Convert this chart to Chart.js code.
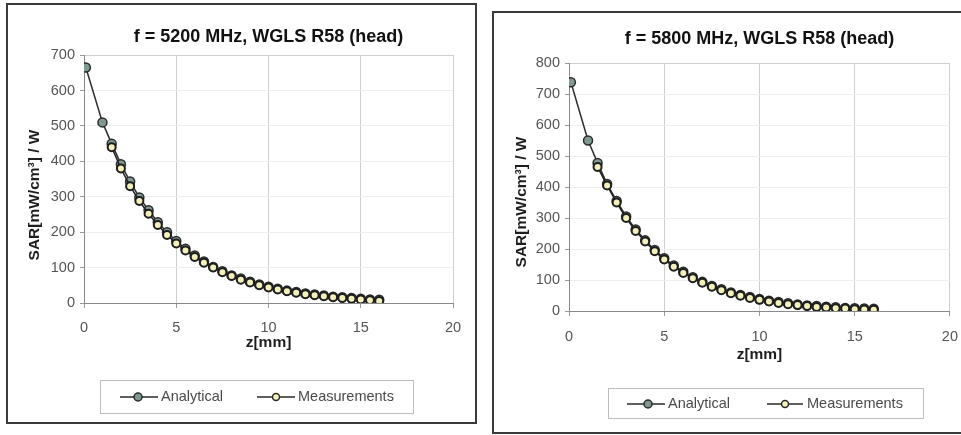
<!DOCTYPE html>
<html>
<head>
<meta charset="utf-8">
<script src="https://cdn.jsdelivr.net/npm/chart.js@4.4.1/dist/chart.umd.min.js"></script>
<style>
    body { margin: 0; background: #ffffff; width: 961px; height: 435px; overflow: hidden; position: relative; }
    .box { position: absolute; box-sizing: border-box; border: 2px solid #3a3a3a; background: #ffffff; }
    #box1 { left: 6px; top: 3px; width: 471px; height: 421px; }
    #box2 { left: 492px; top: 11px; width: 480px; height: 423px; }
    canvas { display: block; }
</style>
</head>
<body>
<div class="box" id="box1"><canvas id="chart1" width="467" height="417"></canvas></div>
<div class="box" id="box2"><canvas id="chart2" width="476" height="419"></canvas></div>

<script>
//Data
///z positions [mm]
var zAnalytical = [0.1, 1, 1.5, 2, 2.5, 3, 3.5, 4, 4.5, 5, 5.5, 6, 6.5, 7, 7.5, 8, 8.5, 9, 9.5, 10, 10.5, 11, 11.5, 12, 12.5, 13, 13.5, 14, 14.5, 15, 15.5, 16];
var zMeasured = [1.5, 2, 2.5, 3, 3.5, 4, 4.5, 5, 5.5, 6, 6.5, 7, 7.5, 8, 8.5, 9, 9.5, 10, 10.5, 11, 11.5, 12, 12.5, 13, 13.5, 14, 14.5, 15, 15.5, 16];

///f = 5200 MHz
var sar5200Analytical = [665, 510, 450, 392, 343, 298, 262, 228, 200, 175, 153, 134, 117, 102, 90, 78, 69, 60, 52, 46, 40, 35, 31, 27, 24, 21, 18, 16, 14, 12, 10, 9];
var sar5200Measured = [440, 380, 330, 288, 252, 220, 192, 168, 148, 130, 114, 100, 87, 76, 66, 58, 50, 44, 38, 33, 29, 25, 22, 19, 16, 14, 12, 10, 8, 6];

///f = 5800 MHz
var sar5800Analytical = [738, 550, 478, 410, 355, 305, 263, 228, 197, 170, 147, 127, 109, 94, 81, 70, 60, 52, 45, 39, 33, 29, 25, 21, 18, 16, 14, 12, 10, 9, 8, 7];
var sar5800Measured = [465, 405, 350, 300, 258, 224, 193, 166, 143, 123, 106, 91, 78, 67, 57, 49, 42, 36, 31, 26, 22, 19, 16, 13, 11, 9, 8, 6, 5, 4];

///Tick settings
var xTicks = [0, 5, 10, 15, 20];
var seriesNames = ["Analytical", "Measurements"];

var fontFamily = "'Liberation Sans', Arial, Helvetica, sans-serif";

//Pairs two arrays into {x, y} points
function toPoints(xs, ys) {
    var points = [];

    for (var i = 0; i < xs.length; i++) {
        points.push({ x: xs[i], y: ys[i] });
    }

    return points
}

//Draws the boxed legend and the rotated y title by hand
var extrasPlugin = {
    id: "extras",
    afterDraw: function (chart) {
        var ctx = chart.ctx;
        var o = chart.options.plugins.extras;

        ctx.save();

        //Y axis title
        ctx.translate(o.yTitleX, o.yTitleY);
        ctx.rotate(-Math.PI / 2);
        ctx.font = "bold 15.5px " + fontFamily;
        ctx.fillStyle = "#1e1e1e";
        ctx.textAlign = "center";
        ctx.textBaseline = "middle";
        ctx.fillText("SAR[mW/cm\u00B3] / W", 0, 0);
        ctx.restore();

        //Legend box
        ctx.save();
        var b = o.legendBox;
        ctx.fillStyle = "#ffffff";
        ctx.fillRect(b[0], b[1], b[2] - b[0], b[3] - b[1]);
        ctx.strokeStyle = "#bdbdbd";
        ctx.lineWidth = 1;
        ctx.strokeRect(b[0] + 0.5, b[1] + 0.5, b[2] - b[0], b[3] - b[1]);

        var y = o.legendY;
        o.legendItems.forEach(function (item, i) {
            var ds = chart.data.datasets[i];

            ctx.strokeStyle = "#2a2a2a";
            ctx.lineWidth = 1.5;
            ctx.beginPath();
            ctx.moveTo(item.line[0], y);
            ctx.lineTo(item.line[1], y);
            ctx.stroke();

            ctx.beginPath();
            ctx.arc(item.marker, y, i == 0 ? 4 : 3.5, 0, Math.PI * 2);
            ctx.fillStyle = ds.pointBackgroundColor;
            ctx.fill();
            ctx.lineWidth = 1.5;
            ctx.strokeStyle = "#2a2a2a";
            ctx.stroke();

            ctx.font = "14.5px " + fontFamily;
            ctx.fillStyle = "#4a4a4a";
            ctx.textAlign = "left";
            ctx.textBaseline = "middle";
            ctx.fillText(seriesNames[i], item.text, y);
        });

        ctx.restore();
    }
};

//Builds one chart
function drawChart(canvasId, setup) {
    var data = {
        datasets: [{
                label: seriesNames[0],
                data: toPoints(zAnalytical, setup.analytical),
                showLine: true,
                borderColor: "#2e2e2e",
                borderWidth: 1.5,
                pointRadius: 4.5,
                pointBorderWidth: 1.5,
                pointBackgroundColor: "#7f9990",
                pointBorderColor: "#2a2a2a",
                order: 2
            }, {
                label: seriesNames[1],
                data: toPoints(zMeasured, setup.measured),
                showLine: true,
                borderColor: "#1e1e1e",
                borderWidth: 1.5,
                pointRadius: 4,
                pointBorderWidth: 2,
                pointBackgroundColor: "#f4f0bc",
                pointBorderColor: "#1e1e1e",
                order: 1
            }
        ]
    };

    return new Chart(canvasId, {
        type: "scatter",
        data: data,
        plugins: [extrasPlugin],
        options: {
            responsive: false,
            animation: false,
            layout: {
                padding: { left: 0, right: setup.padRight, top: 0, bottom: setup.padBottom }
            },
            plugins: {
                legend: { display: false },
                tooltip: { enabled: false },
                title: {
                    display: true,
                    fullSize: false,
                    text: setup.title,
                    color: "#111111",
                    font: { family: fontFamily, size: 18, weight: "bold" },
                    padding: { top: setup.titleTop, bottom: setup.titleBottom }
                },
                extras: setup.extras
            },
            scales: {
                x: {
                    type: "linear",
                    min: 0,
                    max: 20,
                    afterFit: function (scale) { scale.height = setup.xHeight; },
                    afterBuildTicks: function (scale) {
                        scale.ticks = xTicks.map(function (v) { return { value: v }; });
                    },
                    grid: { color: "#cfcfcf", lineWidth: 1, tickLength: 5, tickColor: "#9a9a9a" },
                    border: { color: "#8a8a8a", width: 1 },
                    ticks: {
                        padding: setup.xTickPad,
                        color: "#555555",
                        font: { family: fontFamily, size: 14.5 }
                    },
                    title: {
                        display: true,
                        text: "z[mm]",
                        color: "#1e1e1e",
                        font: { family: fontFamily, size: 15.5, weight: "bold" },
                        padding: { top: 0, bottom: setup.xTitlePad }
                    }
                },
                y: {
                    type: "linear",
                    min: 0,
                    max: setup.yMax,
                    afterFit: function (scale) { scale.width = setup.yWidth; },
                    grid: {
                        color: function (c) { return c.tick && c.tick.value == setup.yMax ? "#cfcfcf" : "#efefef"; },
                        lineWidth: 1,
                        tickLength: 4,
                        tickColor: "#9a9a9a"
                    },
                    border: { color: "#8a8a8a", width: 1 },
                    ticks: {
                        stepSize: 100,
                        padding: 5,
                        color: "#555555",
                        font: { family: fontFamily, size: 14.5 }
                    }
                }
            }
        }
    });
}

window.onload = function () {
    drawChart("chart1", {
        title: "f = 5200 MHz, WGLS R58 (head)",
        analytical: sar5200Analytical,
        measured: sar5200Measured,
        yMax: 700,
        yWidth: 76,
        padRight: 22,
        padBottom: 69,
        xHeight: 50,
        xTickPad: 11,
        xTitlePad: 1,
        titleTop: 21,
        titleBottom: 7.5,
        extras: {
            yTitleX: 27,
            yTitleY: 190,
            legendBox: [92, 375, 405, 408],
            legendY: 392,
            legendItems: [
                { line: [112, 150], marker: 130, text: 153 },
                { line: [249, 287], marker: 268, text: 290 }
            ]
        }
    });

    drawChart("chart2", {
        title: "f = 5800 MHz, WGLS R58 (head)",
        analytical: sar5800Analytical,
        measured: sar5800Measured,
        yMax: 800,
        yWidth: 75,
        padRight: 20,
        padBottom: 65,
        xHeight: 56,
        xTickPad: 12,
        xTitlePad: 3,
        titleTop: 15,
        titleBottom: 13.5,
        extras: {
            yTitleX: 28,
            yTitleY: 189,
            legendBox: [114, 375, 429, 405],
            legendY: 391,
            legendItems: [
                { line: [133, 171], marker: 154, text: 174 },
                { line: [273, 309], marker: 291, text: 313 }
            ]
        }
    });
};
</script>
</body>
</html>
